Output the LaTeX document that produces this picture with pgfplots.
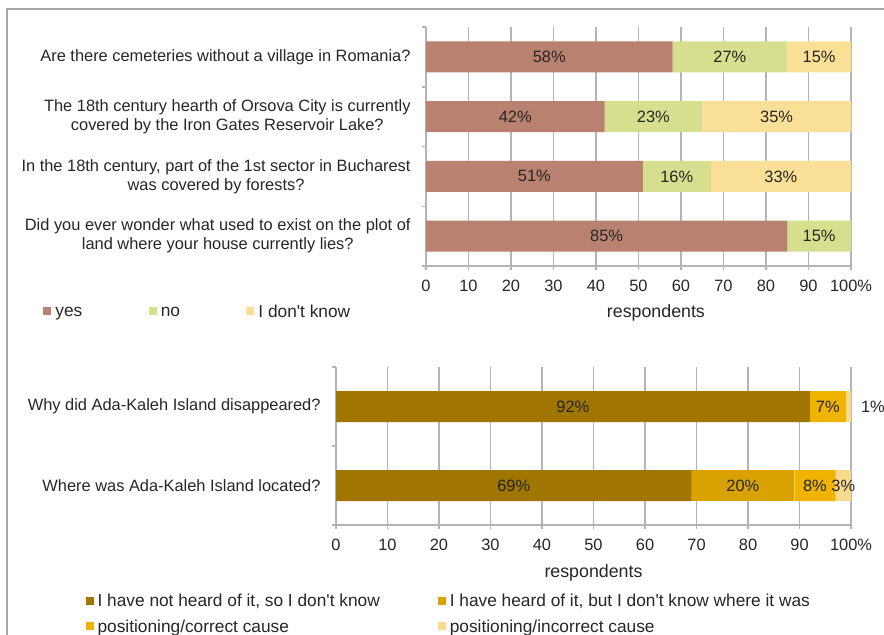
\documentclass[border=0pt]{standalone}
\usepackage{fontspec}
\setmainfont{Liberation Sans}[Ligatures=TeXOff]
\usepackage{pgfplots}
\pgfplotsset{compat=1.18}
\newcommand\f{\fontsize{8.2pt}{9.5pt}\selectfont}
\newcommand\fl{\fontsize{8.65pt}{10pt}\selectfont}
\newcommand\fx{\fontsize{8.9pt}{10pt}\selectfont}
\definecolor{txt}{HTML}{262626}
\definecolor{gridc}{HTML}{B4B4B4}
\definecolor{framec}{HTML}{A8A8A8}
\definecolor{cyes}{HTML}{B98270}
\definecolor{cno}{HTML}{D5DF8D}
\definecolor{cdk}{HTML}{FAE096}
\definecolor{cnh}{HTML}{A07600}
\definecolor{chd}{HTML}{D9A200}
\definecolor{ccc}{HTML}{EFB300}
\definecolor{cic}{HTML}{F9D98C}
\pgfplotsset{
  mybar/.style={
    xbar stacked, bar width=15.5pt, scale only axis, clip=false,
    xmin=0, xmax=100, xtick={0,10,...,100},
    xticklabels={0,10,20,30,40,50,60,70,80,90,100\%},
    enlargelimits=false,
    axis x line*=bottom, axis y line*=left,
    axis line style={gridc, line width=0.75pt},
    tick style={gridc, line width=0.75pt},
    major tick length=2pt, tick align=outside,
    xmajorgrids, grid style={gridc, line width=0.75pt},
    ticklabel style={font=\f, text=txt},
    xticklabel style={yshift=-1.6pt},
    label style={font=\fx, text=txt},
    yticklabels={},
    extra y tick style={tick style={draw=none}, yticklabel style={align=center, font=\f, text=txt, xshift=-2.2pt}},
    point meta=explicit symbolic,
    nodes near coords,
    every node near coord/.append style={anchor=center, font=\f, text=txt},
    legend cell align=left,
    legend style={draw=none, fill=none, font=\fl, text=txt, inner sep=0pt},
  }
}
\begin{document}
\begin{tikzpicture}
\useasboundingbox (0,0) rectangle (442pt,-317pt);
\draw[framec, line width=1pt] (3.5pt,-320pt) -- (3.5pt,-4.5pt) -- (445pt,-4.5pt);

\begin{axis}[mybar, at={(213pt,-133pt)}, anchor=south west, width=212.5pt, height=119.5pt,
  ymin=-0.5, ymax=3.5, ytick={-0.5,0.5,1.5,2.5,3.5},
  extra y ticks={0,1,2,3},
  extra y tick labels={{Did you ever wonder what used to exist on the plot of\\land where your house currently lies?},{In the 18th century, part of the 1st sector in Bucharest\\was covered by forests?},{The 18th century hearth of Orsova City is currently\\covered by the Iron Gates Reservoir Lake?},{Are there cemeteries without a village in Romania?}},
  xlabel={respondents}, xlabel style={at={(axis description cs:0.541,-0.197)}, anchor=center},
  legend columns=3,
  legend style={at={(axis description cs:-0.901,-0.197)}, anchor=west, /tikz/every even column/.append style={column sep=31.2pt}},
  legend image code/.code={\fill[#1] (0pt,-1.2pt) rectangle (4pt,2.8pt);},
]
\addplot[fill=cyes, draw=none] coordinates {(85,0) [85\%] (51,1) [51\%] (42,2) [42\%] (58,3) [58\%]};
\addplot[fill=cno, draw=none] coordinates {(15,0) [15\%] (16,1) [16\%] (23,2) [23\%] (27,3) [27\%]};
\addplot[fill=cdk, draw=none] coordinates {(0,0) [] (33,1) [33\%] (35,2) [35\%] (15,3) [15\%]};
\legend{yes,no,I don't know}
\end{axis}

\begin{axis}[mybar, at={(168pt,-262.5pt)}, anchor=south west, width=257.5pt, height=79pt,
  ymin=-0.5, ymax=1.5, ytick={-0.5,0.5,1.5},
  extra y ticks={0,1},
  extra y tick labels={{Where was Ada-Kaleh Island located?},{Why did Ada-Kaleh Island disappeared?}},
  xlabel={respondents}, xlabel style={at={(axis description cs:0.5,-0.30)}, anchor=center},
  legend columns=2,
  legend style={at={(axis description cs:-0.487,-0.411)}, anchor=north west, /tikz/every even column/.append style={column sep=27pt}, /tikz/row sep=0.8pt},
  legend image code/.code={\fill[#1] (0pt,-1.2pt) rectangle (4pt,2.8pt);},
]
\addplot[fill=cnh, draw=none] coordinates {(69,0) [69\%] (92,1) [92\%]};
\addplot[fill=chd, draw=none] coordinates {(20,0) [20\%] (0,1) []};
\addplot[fill=ccc, draw=none] coordinates {(8,0) [8\%] (7,1) [7\%]};
\addplot[fill=cic, draw=none] coordinates {(3,0) [3\%] (1,1) [\rlap{\hspace{6.3pt}1\%}]};
\legend{{I have not heard of it, so I don't know},{I have heard of it, but I don't know where it was},{positioning/correct cause},{positioning/incorrect cause}}
\end{axis}
\end{tikzpicture}
\end{document}
